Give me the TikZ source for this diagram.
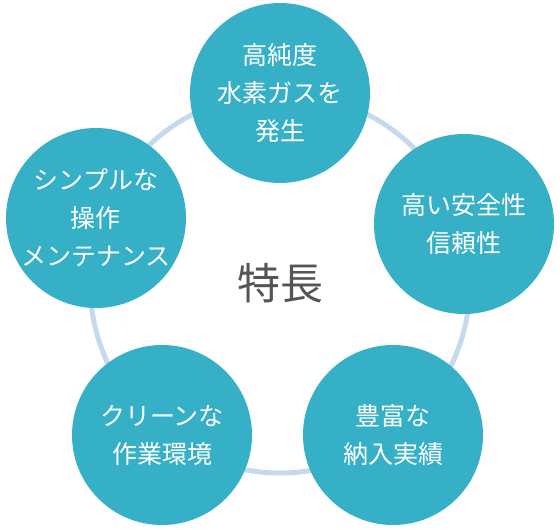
\documentclass[tikz,border=0pt]{standalone}
\usepackage{fontspec}
\setmainfont{Noto Sans CJK JP}
\usepackage{xcolor}
\definecolor{featteal}{HTML}{35B0C6}
\definecolor{ringblue}{HTML}{C5DAEC}
\definecolor{titlegray}{HTML}{555555}
\usetikzlibrary{positioning}

\begin{document}
\begin{tikzpicture}[x=1pt, y=-1pt,
  every node/.style={align=center},
  feat/.style={circle, fill=featteal, text=white, minimum size=180pt, inner sep=0pt,
               font=\fontsize{25}{38}\selectfont},
  ring/.style={draw=ringblue, line width=5pt},
]
  \useasboundingbox (0,0) rectangle (560,530);

  % Centre title and ring behind the features
  \node[font=\fontsize{43}{50}\selectfont, text=titlegray] (toku) at (280,283) {特長};
  \draw[ring] (toku.center) circle (190pt);

  % Five features around the ring
  \node[feat] (purity) at (280,93)  {高純度\\水素ガスを\\発生};
  \node[feat] (safety) at (464,224) {高い安全性\\信頼性};
  \node[feat] (record) at (393,435) {豊富な\\納入実績};
  \node[feat] (clean)  at (162,435) {クリーンな\\作業環境};
  \node[feat] (simple) at (96,218)  {シンプルな\\操作\\メンテナンス};
\end{tikzpicture}
\end{document}
